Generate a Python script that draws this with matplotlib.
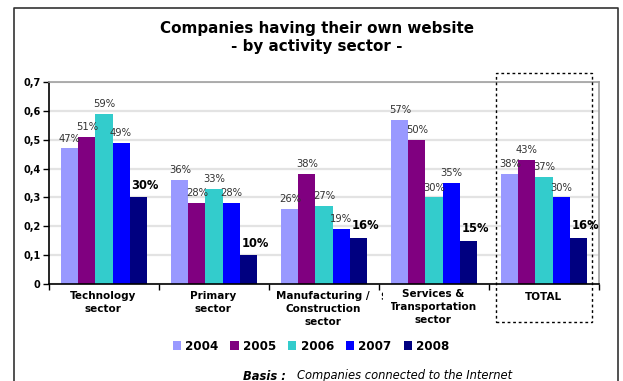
import matplotlib.pyplot as plt
import numpy as np
from matplotlib.patches import Patch, Rectangle

plt.rcParams['font.family'] = ['DejaVu Sans']

# Share of companies with their own website, by sector and year
sectors = ["Technology\nsector", "Primary\nsector", "Manufacturing /\nConstruction\nsector",
           "Services &\nTransportation\nsector", "TOTAL"]
years = ["2004", "2005", "2006", "2007", "2008"]
pct_2004 = [47, 36, 26, 57, 38]
pct_2005 = [51, 28, 38, 50, 43]
pct_2006 = [59, 33, 27, 30, 37]
pct_2007 = [49, 28, 19, 35, 30]
pct_2008 = [30, 10, 16, 15, 16]
yticks = [0, 0.1, 0.2, 0.3, 0.4, 0.5, 0.6, 0.7]
ytick_labels = ["0", "0,1", "0,2", "0,3", "0,4", "0,5", "0,6", "0,7"]

series = [pct_2004, pct_2005, pct_2006, pct_2007, pct_2008]
colors = ["#9999ff", "#800080", "#33cccc", "#0000ff", "#000080"]

W, H = 623, 381
fig = plt.figure(figsize=(W / 100, H / 100), dpi=100)

def fx(px):
    return px / W

def fy(py):
    return 1 - py / H

ax = fig.add_axes([fx(49), fy(284), fx(599) - fx(49), fy(82) - fy(284)])

bar_width = 0.155
x = np.arange(len(sectors))
for i, (vals, col) in enumerate(zip(series, colors)):
    vals = np.array(vals) / 100
    pos = x + (i - 2) * bar_width
    ax.bar(pos, vals, width=bar_width, color=col, zorder=2)
    for xp, v in zip(pos, vals):
        if i == 4:
            ax.annotate(f"{v * 100:.0f}%", (xp, v), xytext=(5, 4), textcoords="offset points",
                        ha="center", va="bottom", fontsize=8.3, fontweight="bold", color="black")
        else:
            ax.annotate(f"{v * 100:.0f}%", (xp, v), xytext=(0, 3.5), textcoords="offset points",
                        ha="center", va="bottom", fontsize=7.2, color="#333333")

ax.set_xlim(-0.5, 4.5)
ax.set_ylim(0, 0.7)
ax.set_yticks(yticks)
ax.set_yticklabels(ytick_labels, fontsize=7, fontweight="bold")
ax.set_xticks(np.arange(-0.5, 5, 1))
ax.set_xticklabels([])
ax.tick_params(axis="y", length=4, width=1, pad=2)
ax.tick_params(axis="x", length=4, width=1, direction="out")
ax.grid(axis="y", color="#e3e3e3", linewidth=1.6, zorder=0)
ax.set_axisbelow(True)
for side in ["top", "right"]:
    ax.spines[side].set_color("#a0a0a0")
    ax.spines[side].set_linewidth(1.2)
for side in ["left", "bottom"]:
    ax.spines[side].set_color("black")
    ax.spines[side].set_linewidth(1.2)

# category labels under the axis
label_y = [297, 297, 297, 295, 298]
for i, name in enumerate(sectors):
    fig.text(fx(103 + 110 * i), fy(label_y[i] - 6), name, ha="center", va="top",
             fontsize=7.5, fontweight="bold", linespacing=1.4)

# stray clipped glyph between the two middle labels
fig.text(fx(380), fy(297), "S", ha="left", va="center", fontsize=7.5, fontweight="bold")
fig.patches.append(Rectangle((fx(382.5), fy(304)), fx(8), fy(290) - fy(304),
                             transform=fig.transFigure, facecolor="white", edgecolor="none",
                             zorder=5))

# title
fig.text(fx(317), fy(28), "Companies having their own website", ha="center", va="center",
         fontsize=10.9, fontweight="bold")
fig.text(fx(317), fy(47), "- by activity sector -", ha="center", va="center",
         fontsize=10.9, fontweight="bold")

# legend
handles = [Patch(facecolor=c, edgecolor="none") for c in colors]
fig.legend(handles, years, loc="center", bbox_to_anchor=(fx(311), fy(346)), ncol=5,
           frameon=False, prop={"size": 8.6, "weight": "bold"}, handlelength=0.7,
           handleheight=0.7, handletextpad=0.35, columnspacing=1.0, borderpad=0)

# footnote
fig.text(fx(243), fy(376), "Basis :", ha="left", va="center", fontsize=8.3,
         fontweight="bold", style="italic")
fig.text(fx(297), fy(376), "Companies connected to the Internet", ha="left", va="center",
         fontsize=8.3, style="italic")

# dashed frame round the TOTAL group
fig.patches.append(Rectangle((fx(496), fy(322)), fx(592) - fx(496), fy(73) - fy(322),
                             transform=fig.transFigure, fill=False, edgecolor="black",
                             linewidth=1, linestyle=(0, (2, 2))))

# outer chart border (bottom edge lies below the visible area)
fig.lines.append(plt.Line2D([fx(14), fx(14), fx(618), fx(618)], [fy(400), fy(8), fy(8), fy(400)],
                            transform=fig.transFigure, color="#333333", linewidth=1.2))

fig.savefig("out.png", dpi=100)
